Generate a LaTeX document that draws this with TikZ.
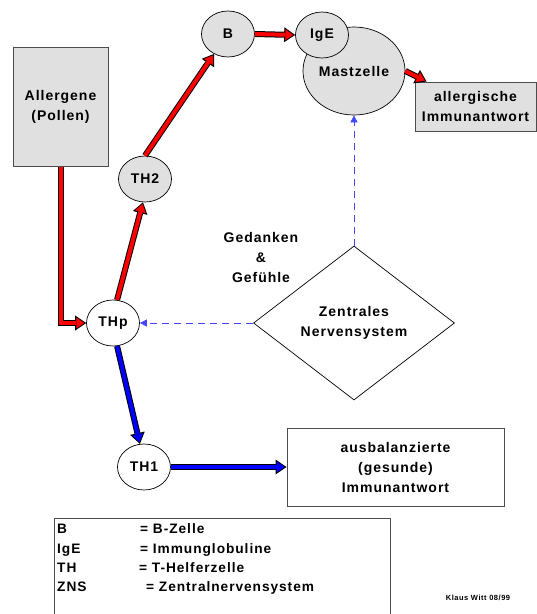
\documentclass[tikz,border=0pt]{standalone}
\usepackage{fontspec}
\setmainfont{Liberation Sans}[LetterSpace=7]
\usepackage{tikz}
\usetikzlibrary{arrows.meta,shapes.geometric,positioning}
\definecolor{cellgray}{RGB}{224,224,224}
\definecolor{dashblue}{RGB}{70,70,255}

\begin{document}
\begin{tikzpicture}[x=1pt,y=-1pt,
    txt/.style={font=\bfseries\fontsize{14}{20}\selectfont,align=center},
    legtxt/.style={font=\bfseries\fontsize{13.7}{16}\selectfont,inner sep=0pt,anchor=base west},
    cell/.style={ellipse,draw,line width=0.7pt,minimum width=53pt,minimum height=46pt,inner sep=0pt,txt},
    boxed/.style={rectangle,draw=black!70,line width=1pt,txt},
    fat/.style={preaction={draw=black,line width=6pt,shorten >=0pt,-{Triangle[length=11pt,width=15pt,line width=0pt]}},
      draw=#1,line width=4pt,shorten >=1.8pt,-{Triangle[length=8pt,width=11pt,line width=0pt]}},
    nerve/.style={draw=dashblue,line width=0.7pt,dash pattern=on 7pt off 5pt,-{Triangle[length=7pt,width=7pt]}}]
    \useasboundingbox (0,0) rectangle (537,614);

    % boxes
    \node[boxed,fill=cellgray,minimum width=95pt,minimum height=119pt] (allergen) at (60.5,106.5) {Allergene\\(Pollen)};
    \node[boxed,fill=cellgray,minimum width=121pt,minimum height=49pt] (allergy) at (475.5,106.5) {allergische\\Immunantwort};
    \node[boxed,fill=white,minimum width=217pt,minimum height=78pt] (balance) at (395.5,467) {ausbalanzierte\\(gesunde)\\Immunantwort};

    % cells
    \node[cell,fill=cellgray,minimum width=102pt,minimum height=88pt] (mast) at (354,71) {Mastzelle};
    \node[cell,fill=cellgray] (ige) at (322,35) {IgE};
    \node[cell,fill=cellgray] (b) at (228,34) {B};
    \node[cell,fill=cellgray] (th2) at (145,179) {TH2};
    \node[cell,fill=white] (thp) at (113,323) {THp};
    \node[cell,fill=white] (th1) at (144,467) {TH1};

    \node[diamond,draw,line width=0.7pt,minimum width=201pt,minimum height=154pt,inner sep=0pt,txt] (zns) at (354,323) {Zentrales\\Nervensystem};
    \node[txt] (mind) at (261,257) {Gedanken\\\&\\Gefühle};

    % arrows
    \draw[fat=red] (allergen.south) |- (thp.west);
    \draw[fat=red] (thp.80) -- (th2.265);
    \draw[fat=red] (th2.north) -- (b.235);
    \draw[fat=red] (b.east) -- (ige.west);
    \draw[fat=red] (mast.east) -- ([xshift=12pt]allergy.north west);
    \draw[fat=blue] (thp.-80) -- (th1.100);
    \draw[fat=blue] (th1.east) -- (balance.west);
    \draw[nerve] (zns.north) -- (mast.south);
    \draw[nerve] (zns.west) -- (thp.east);

    % legend
    \node[draw=black!70,line width=1pt,anchor=north west,minimum width=336pt,minimum height=110pt] (legend) at (54,518) {};
    \foreach \short/\eqx/\full [count=\i] in {B/140/B-Zelle,IgE/140/Immunglobuline,TH/139/T-Helferzelle,ZNS/146/Zentralnervensystem}
    {
      \node[legtxt] (abbr\i) at (57,514.5+19.3*\i) {\short};
      \node[legtxt] (expl\i) at (\eqx,514.5+19.3*\i) {= \full};
    }
    \node[font=\bfseries\fontsize{7.5}{9}\selectfont,inner sep=0pt,anchor=base] (sign) at (478,600) {Klaus Witt 08/99};
\end{tikzpicture}
\end{document}
